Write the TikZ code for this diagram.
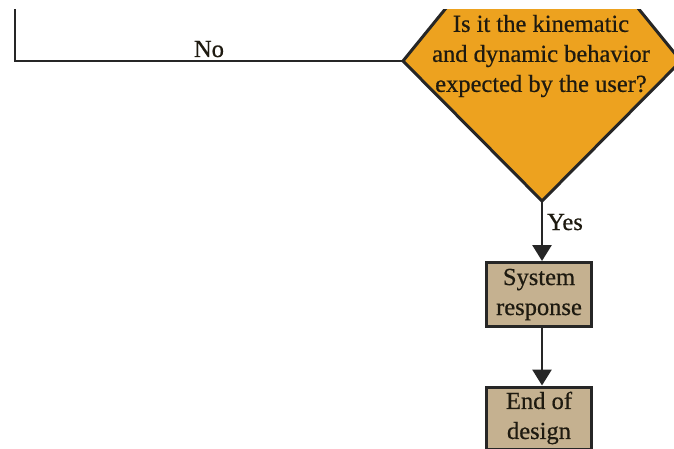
\documentclass[tikz,border=0pt]{standalone}
\usepackage{fontspec}
\setmainfont{Liberation Serif}[FakeBold=0.6]
\usetikzlibrary{arrows.meta}
\definecolor{decorange}{HTML}{EDA21F}
\definecolor{boxtan}{HTML}{C5B190}
\definecolor{edgedark}{HTML}{262626}
\definecolor{txtdark}{HTML}{1E1A10}
\tikzset{
  lbl/.style={font=\fontsize{24.5}{30}\selectfont, text=txtdark, inner sep=0pt},
  procbox/.style={draw=edgedark, line width=3pt, fill=boxtan, minimum width=105pt,
     minimum height=64pt, inner sep=0pt, align=center, font=\fontsize{24.5}{30}\selectfont, text=txtdark},
  conn/.style={draw=edgedark, line width=2.8pt},
  arr/.style={conn, -{Triangle[width=19pt,length=16pt]}},
}
\begin{document}
\begin{tikzpicture}[x=1pt,y=-1pt]
\useasboundingbox (0,0) rectangle (674,449);
\fill[white] (0,0) rectangle (674,449);
\clip (0,10) rectangle (674,449);
% diamond
\coordinate (dl) at (403,61);
\coordinate (dt) at (542,-110);
\coordinate (dr) at (681,61);
\coordinate (db) at (542,201);
\draw[edgedark, line width=3pt, fill=decorange, line join=miter] (dl) -- (dt) -- (dr) -- (db) -- cycle;
\node[lbl, align=center] (q) at (541,56) {Is it the kinematic\\and dynamic behavior\\expected by the user?};
% boxes
\node[procbox] (b1) at (539,294.5) {System\\response};
\node[procbox, minimum height=62pt] (b2) at (539,418) {End of\\design};
% connectors
\coordinate (lt) at (15,8);
\draw[conn] (lt) |- (dl);
\node[lbl, anchor=base] (no) at (209,57) {No};
\draw[arr] (db) -- (db |- b1.north);
\node[lbl, anchor=base west] (yes) at (547,230) {Yes};
\draw[arr] (db |- b1.south) -- (db |- b2.north);
\end{tikzpicture}
\end{document}
